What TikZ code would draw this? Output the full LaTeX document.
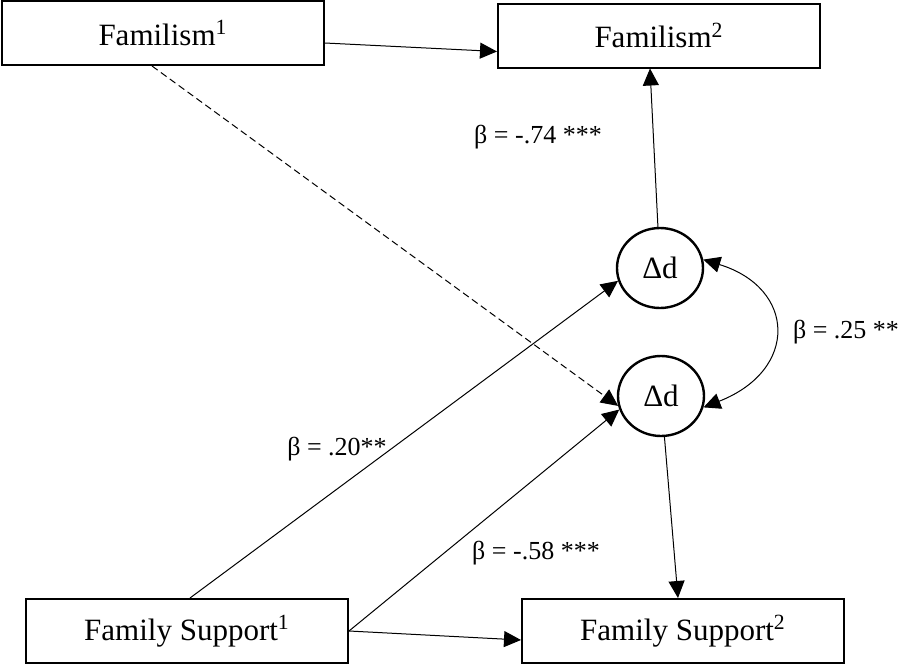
\documentclass[tikz,border=0pt]{standalone}
\usepackage{fontspec}
\setmainfont{Liberation Serif}
\usepackage{tikz}
\usetikzlibrary{arrows.meta,shapes.geometric}

\begin{document}
\begin{tikzpicture}[x=0.5pt,y=-0.5pt,
  var/.style={draw,line width=1pt,minimum width=161pt,minimum height=32pt,inner sep=0pt,font=\fontsize{15.5}{18}\selectfont},
  res/.style={draw,ellipse,line width=1.2pt,minimum width=43pt,minimum height=40pt,inner sep=0pt,font=\fontsize{15.5}{18}\selectfont},
  coef/.style={font=\fontsize{13}{15}\selectfont},
  arr/.style={line width=0.5pt,-{Triangle[length=8.5pt,width=8pt]}},
  arrtwo/.style={line width=0.5pt,{Triangle[length=8.5pt,width=8pt]}-{Triangle[length=8.5pt,width=8pt]}}]
\useasboundingbox (0,0) rectangle (902,665);
\node[var](fam1) at (163,33){Familism\textsuperscript{1}};
\node[var](fam2) at (659,35.5){Familism\textsuperscript{2}};
\node[var](sup1) at (187,631){Family Support\textsuperscript{1}};
\node[var](sup2) at (683,631){Family Support\textsuperscript{2}};
\node[res](dup) at (660,268){Δd};
\node[res](dlo) at (661,396){Δd};
\draw[arr]([yshift=-5pt]fam1.east)--([yshift=-8pt]fam2.west);
\draw[arr](dup)--([xshift=-4.5pt]fam2.south);
\draw[arr,dash pattern=on 3.5pt off 2pt]([xshift=-5.5pt]fam1.south)--(dlo.193);
\draw[arr]([xshift=1.5pt]sup1.north)--(dup.197);
\draw[arr](sup1.east)--(dlo.198);
\draw[arr](sup1.east)--([yshift=-4.5pt]sup2.west);
\draw[arr](dlo)--([xshift=-2.5pt]sup2.north);
\draw[arrtwo](dup.11) .. controls (796,288) and (799,370) .. (dlo.-15);
\node[coef](b74) at (538,137){β = -.74 ***};
\node[coef](b20) at (337,449){β = .20**};
\node[coef](b58) at (536,553){β = -.58 ***};
\node[coef](b25) at (846,332){β = .25 **};
\end{tikzpicture}
\end{document}
